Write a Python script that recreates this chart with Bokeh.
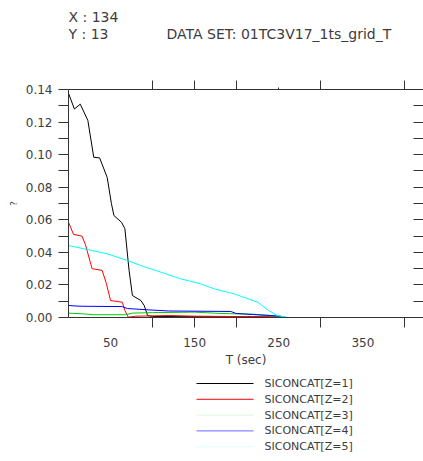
from bokeh.plotting import figure
from bokeh.models import Range1d, FixedTicker, LinearAxis, NumeralTickFormatter
from bokeh.layouts import column
from bokeh.embed import file_html
from bokeh.resources import INLINE
from bokeh.core.properties import value

# ---------------- data ----------------
t_z1 = [0, 7, 14, 23, 30, 37, 46, 51, 54, 63, 67, 72, 76, 86, 90, 94, 100, 150, 220, 250, 258, 422]
v_z1 = [0.1377, 0.128, 0.131, 0.121, 0.0984, 0.098, 0.086, 0.070, 0.0626, 0.0585, 0.0546, 0.0289,
        0.0135, 0.0104, 0.0074, 0.0012, 0.0006, 0.0005, 0.0004, 0.0002, 0.0, 0.0]

t_z2 = [0, 6, 16, 20, 28, 40, 45, 50, 64, 67, 71, 80, 120, 150, 200, 240, 255, 422]
v_z2 = [0.0585, 0.051, 0.050, 0.045, 0.030, 0.0289, 0.0209, 0.0104, 0.0094, 0.0043, 0.0002,
        0.0008, 0.0012, 0.0008, 0.0006, 0.0004, 0.0, 0.0]

t_z3 = [0, 18, 30, 68, 76, 100, 150, 180, 220, 245, 255, 422]
v_z3 = [0.0027, 0.0022, 0.0017, 0.0017, 0.0027, 0.0030, 0.0033, 0.0025, 0.0020, 0.0010, 0.0, 0.0]

t_z4 = [0, 10, 17, 64, 70, 95, 119, 193, 199, 220, 240, 252, 258, 422]
v_z4 = [0.0074, 0.0070, 0.0069, 0.0067, 0.0055, 0.0047, 0.0040, 0.0037, 0.0025, 0.0018,
        0.0012, 0.0008, 0.0, 0.0]

t_z5 = [0, 18, 46, 70, 86, 110, 133, 157, 173, 197, 225, 238, 248, 261, 422]
v_z5 = [0.0442, 0.0422, 0.0391, 0.035, 0.0319, 0.0278, 0.0238, 0.0207, 0.0176, 0.0145,
        0.0094, 0.0043, 0.0012, 0.0, 0.0]

series_names = ["SICONCAT[Z=1]", "SICONCAT[Z=2]", "SICONCAT[Z=3]", "SICONCAT[Z=4]", "SICONCAT[Z=5]"]
series_colors = ["black", "red", "#00cc00", "blue", "cyan"]
series_t = [t_z1, t_z2, t_z3, t_z4, t_z5]
series_v = [v_z1, v_z2, v_z3, v_z4, v_z5]

header_x = "X : 134"
header_y = "Y : 13"
header_ds = "DATA SET: 01TC3V17_1ts_grid_T"
x_title = "T (sec)"
y_title = "?"

y_major = [0.0, 0.02, 0.04, 0.06, 0.08, 0.10, 0.12, 0.14]
y_minor = [0.01, 0.03, 0.05, 0.07, 0.09, 0.11, 0.13]
x_labels = [50, 150, 250, 350]
x_marks = [100, 150, 200, 300, 400]
x_top_small = [250]

FONT = "DejaVu Sans"
TXT = "#3c3c3c"
AX = "#333333"

W = 423
LEFT = 68

def blank(height, y0, y1):
    f = figure(width=W, height=height, x_range=Range1d(LEFT, W), y_range=Range1d(y0, y1),
               output_backend="svg", toolbar_location=None,
               x_axis_location=None, y_axis_location=None,
               min_border_left=LEFT, min_border_right=0, min_border_top=0, min_border_bottom=0,
               outline_line_color=None)
    f.xgrid.visible = False
    f.ygrid.visible = False
    return f

# ---------------- header ----------------
head = blank(60, 60, 0)
head.text(x=[68, 68, 166], y=[16, 33, 33], text=[header_x, header_y, header_ds],
          text_font=value(FONT), text_font_size="14px", text_color=TXT,
          text_baseline="middle", text_align="left")

# ---------------- main plot ----------------
p = figure(width=W, height=315, x_range=Range1d(0, 422), y_range=Range1d(0, 0.14),
           output_backend="svg", toolbar_location=None,
           x_axis_location=None, y_axis_location=None,
           min_border_left=LEFT, min_border_right=0, min_border_top=29, min_border_bottom=58,
           outline_line_color=None)
p.xgrid.visible = False
p.ygrid.visible = False

def style(ax):
    ax.axis_line_color = AX
    ax.major_tick_line_color = AX
    ax.minor_tick_line_color = AX
    ax.major_label_text_font = FONT
    ax.major_label_text_color = TXT
    ax.major_label_text_font_size = "12px"
    ax.axis_label_text_font = FONT
    ax.axis_label_text_color = TXT
    ax.axis_label_text_font_size = "12px"
    ax.axis_label_text_font_style = "normal"

bottom = LinearAxis(ticker=FixedTicker(ticks=x_labels, minor_ticks=x_marks),
                    major_tick_out=0, major_tick_in=0, minor_tick_out=10, minor_tick_in=0,
                    major_label_standoff=10, axis_label=x_title, axis_label_standoff=3)
style(bottom)
p.add_layout(bottom, "below")

top = LinearAxis(ticker=FixedTicker(ticks=x_top_small, minor_ticks=x_marks),
                 major_tick_out=2, major_tick_in=0, minor_tick_out=9, minor_tick_in=0,
                 major_label_standoff=0)
style(top)
top.major_label_overrides = {t: "" for t in x_top_small}
top.major_label_text_color = None
p.add_layout(top, "above")

left = LinearAxis(ticker=FixedTicker(ticks=y_major, minor_ticks=y_minor),
                  formatter=NumeralTickFormatter(format="0.00"),
                  major_tick_out=10, major_tick_in=0, minor_tick_out=10, minor_tick_in=0,
                  major_label_standoff=6, axis_label=y_title, axis_label_standoff=4)
style(left)
left.axis_label_text_font_size = "9px"
p.add_layout(left, "left")

right = LinearAxis(ticker=FixedTicker(ticks=y_major, minor_ticks=y_minor),
                   major_tick_out=0, major_tick_in=10, minor_tick_out=0, minor_tick_in=10,
                   major_label_standoff=0)
style(right)
right.axis_line_color = None
right.major_label_overrides = {t: "" for t in y_major}
right.major_label_text_color = None
p.add_layout(right, "right")

for t, v, c in zip(series_t, series_v, series_colors):
    p.line(t, v, line_color=c, line_width=1)

# ---------------- legend ----------------
leg = blank(86, 86, 0)
rows = [8 + i * 15.8 for i in range(len(series_names))]
alphas = [1.0, 1.0, 0.15, 0.6, 0.15]
leg.segment(x0=[196] * 5, x1=[253] * 5, y0=rows, y1=rows,
            line_color=series_colors, line_alpha=alphas, line_width=1)
leg.text(x=[264] * 5, y=rows, text=series_names, text_font=value(FONT),
         text_font_size="11px", text_color=TXT, text_baseline="middle", text_align="left")

layout = column(head, p, leg, spacing=0)
open("out.html", "w").write(file_html(layout, INLINE))
